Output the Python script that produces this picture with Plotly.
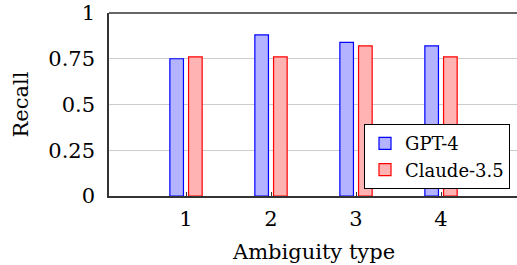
import plotly.graph_objects as go

categories = [1, 2, 3, 4]
gpt4 = [0.75, 0.88, 0.84, 0.82]
claude = [0.76, 0.76, 0.82, 0.76]
y_ticks = [0, 0.25, 0.5, 0.75, 1]
y_tick_labels = ["0", "0.25", "0.5", "0.75", "1"]
x_title = "Ambiguity type"
y_title = "Recall"

FONT = "DejaVu Serif"

fig = go.Figure()
fig.add_trace(go.Bar(
    x=categories, y=gpt4, name="GPT-4",
    width=0.16, offset=-0.19,
    marker=dict(color="#B3B3FF", line=dict(color="#0000FF", width=1.2)),
))
fig.add_trace(go.Bar(
    x=categories, y=claude, name="Claude-3.5",
    width=0.16, offset=0.03,
    marker=dict(color="#FFB3B3", line=dict(color="#FF0000", width=1.2)),
))

fig.update_layout(
    width=517, height=265,
    margin=dict(l=109, r=0, t=13, b=69, autoexpand=False),
    paper_bgcolor="white", plot_bgcolor="white",
    font=dict(family=FONT, size=21, color="black"),
    barmode="overlay",
    showlegend=True,
    legend=dict(
        x=0.625, y=0.393, xanchor="left", yanchor="top",
        bgcolor="white", bordercolor="black", borderwidth=1,
        font=dict(family=FONT, size=18),
        tracegroupgap=0, itemwidth=30,
    ),
    xaxis=dict(
        range=[0.094, 4.894], automargin=False,
        tickvals=categories, ticktext=[str(c) for c in categories],
        showgrid=False, zeroline=False,
        showline=True, linecolor="#333", linewidth=1.5,
        ticks="inside", ticklen=4, tickcolor="#333",
        ticklabelstandoff=3,
    ),
    yaxis=dict(
        range=[0, 1], automargin=False,
        tickvals=y_ticks, ticktext=y_tick_labels,
        showgrid=True, gridcolor="#cccccc", gridwidth=1,
        zeroline=False,
        showline=True, linecolor="#333", linewidth=1.5,
        ticks="", ticklabelstandoff=8,
    ),
)
fig.add_shape(type="line", xref="paper", yref="paper", x0=0, x1=1, y0=1, y1=1,
              line=dict(color="#333", width=1.5))
fig.add_annotation(text=x_title, xref="paper", yref="paper", x=0.5, y=-0.306,
                   xanchor="center", yanchor="middle", showarrow=False,
                   font=dict(family=FONT, size=21))
fig.add_annotation(text=y_title, xref="paper", yref="paper", x=-0.2157, y=0.5,
                   xanchor="center", yanchor="middle", showarrow=False, textangle=-90,
                   font=dict(family=FONT, size=21))

fig.write_html("out.html", config={"displayModeBar": False},
               post_script="document.body.style.margin='0';document.body.style.overflow='hidden';")
